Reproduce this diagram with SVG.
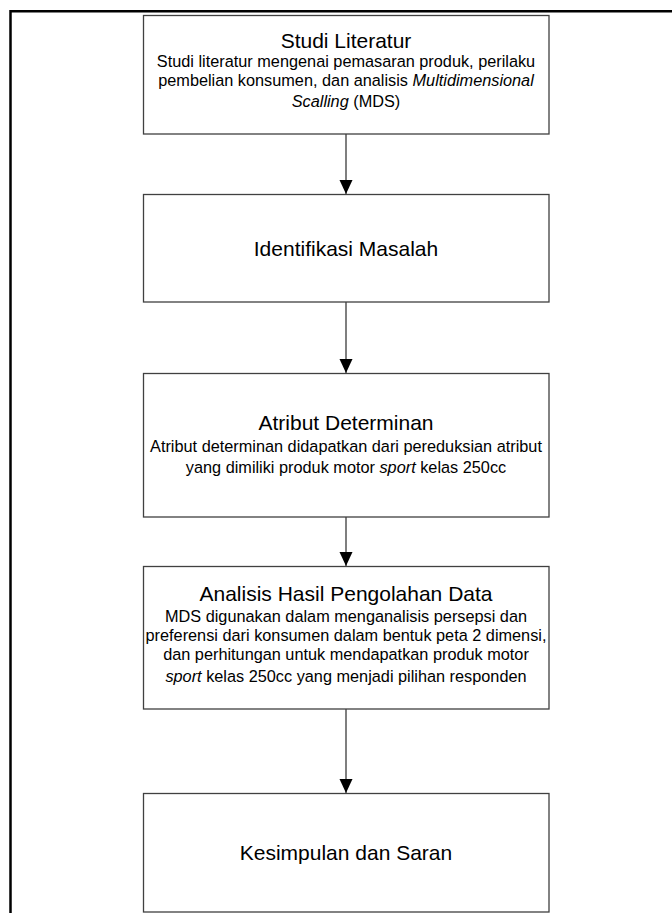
<svg xmlns="http://www.w3.org/2000/svg" width="672" height="913" viewBox="0 0 672 913">
  <style>
    .box { fill: #ffffff; stroke: #404040; stroke-width: 1.3; }
    .title { font-family: "Liberation Sans", Arial, sans-serif; font-size: 21px; fill: #000; text-anchor: middle; }
    .body { font-family: "Liberation Sans", Arial, sans-serif; font-size: 16.3px; fill: #000; text-anchor: middle; }
    .it { font-style: italic; }
    .conn { stroke: #555555; stroke-width: 1.5; fill: none; marker-end: url(#arrow); }
    .frame { stroke: #000; stroke-width: 2.5; fill: none; }
  </style>
  <defs>
    <marker id="arrow" markerUnits="userSpaceOnUse" markerWidth="14" markerHeight="15" refX="14" refY="6.5" orient="auto">
      <path d="M0,0 L14,6.5 L0,13 Z" fill="#000"/>
    </marker>
  </defs>
  <rect width="672" height="913" fill="#ffffff"/>
  <path class="frame" d="M10.5,913 L10.5,11.3 L672,11.3"/>

  <g id="connectors">
    <line class="conn" x1="346" y1="134" x2="346" y2="194"/>
    <line class="conn" x1="346" y1="302" x2="346" y2="373"/>
    <line class="conn" x1="346" y1="517" x2="346" y2="566"/>
    <line class="conn" x1="346" y1="709" x2="346" y2="793"/>
  </g>

  <g id="studi-literatur">
    <rect class="box" x="143.5" y="15.5" width="405.5" height="118.5"/>
    <text class="title" x="346" y="48">Studi Literatur</text>
    <text class="body" x="346" y="67">Studi literatur mengenai pemasaran produk, perilaku</text>
    <text class="body" x="346" y="86">pembelian konsumen, dan analisis <tspan class="it">Multidimensional</tspan></text>
    <text class="body" x="346" y="107"><tspan class="it">Scalling</tspan> (MDS)</text>
  </g>

  <g id="identifikasi-masalah">
    <rect class="box" x="143.5" y="194.5" width="405.5" height="107.5"/>
    <text class="title" x="346" y="256">Identifikasi Masalah</text>
  </g>

  <g id="atribut-determinan">
    <rect class="box" x="143.5" y="373.5" width="405.5" height="143.5"/>
    <text class="title" x="346" y="430">Atribut Determinan</text>
    <text class="body" x="346" y="452">Atribut determinan didapatkan dari pereduksian atribut</text>
    <text class="body" x="346" y="473">yang dimiliki produk motor <tspan class="it">sport</tspan> kelas 250cc</text>
  </g>

  <g id="analisis-hasil">
    <rect class="box" x="143.5" y="566.5" width="405.5" height="142.5"/>
    <text class="title" x="346" y="601">Analisis Hasil Pengolahan Data</text>
    <text class="body" x="346" y="622">MDS digunakan dalam menganalisis persepsi dan</text>
    <text class="body" x="346" y="641">preferensi dari konsumen dalam bentuk peta 2 dimensi,</text>
    <text class="body" x="346" y="660">dan perhitungan untuk mendapatkan produk motor</text>
    <text class="body" x="346" y="682"><tspan class="it">sport</tspan> kelas 250cc yang menjadi pilihan responden</text>
  </g>

  <g id="kesimpulan-saran">
    <rect class="box" x="143.5" y="793.5" width="405.5" height="118.5"/>
    <text class="title" x="346" y="860">Kesimpulan dan Saran</text>
  </g>
</svg>
